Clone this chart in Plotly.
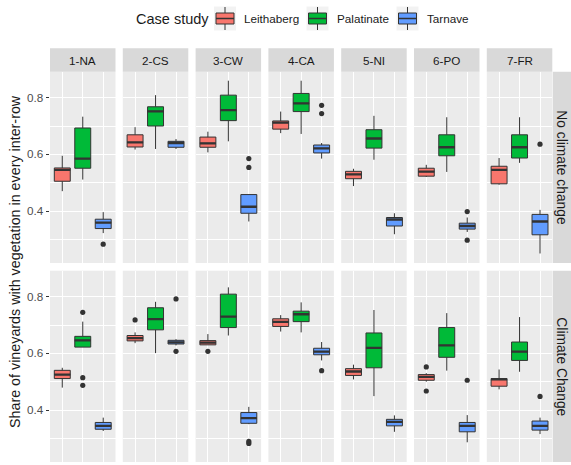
import plotly.graph_objects as go

# ---------------------------------------------------------------------------
# Data: share of vineyards with vegetation in every inter-row
# Each tuple: (lower whisker, Q1, median, Q3, upper whisker), one per region
# ---------------------------------------------------------------------------
regions = ["1-NA", "2-CS", "3-CW", "4-CA", "5-NI", "6-PO", "7-FR"]
scenarios = ["No climate change", "Climate Change"]
cases = ["Leithaberg", "Palatinate", "Tarnave"]
y_ticks = [0.4, 0.6, 0.8]

leithaberg_no_cc = [
    (0.470, 0.505, 0.545, 0.552, 0.595),
    (0.617, 0.626, 0.642, 0.669, 0.696),
    (0.607, 0.625, 0.639, 0.661, 0.680),
    (0.675, 0.689, 0.712, 0.718, 0.751),
    (0.488, 0.514, 0.529, 0.540, 0.549),
    (0.520, 0.523, 0.539, 0.551, 0.563),
    (0.493, 0.496, 0.545, 0.558, 0.587),
]
palatinate_no_cc = [
    (0.511, 0.551, 0.585, 0.693, 0.733),
    (0.619, 0.700, 0.752, 0.768, 0.809),
    (0.646, 0.719, 0.756, 0.809, 0.860),
    (0.672, 0.751, 0.780, 0.815, 0.860),
    (0.581, 0.622, 0.656, 0.687, 0.736),
    (0.538, 0.595, 0.625, 0.669, 0.731),
    (0.570, 0.587, 0.625, 0.669, 0.731),
]
tarnave_no_cc = [
    (0.322, 0.338, 0.359, 0.371, 0.396),
    (0.619, 0.625, 0.640, 0.646, 0.654),
    (0.363, 0.392, 0.415, 0.458, 0.458),
    (0.585, 0.605, 0.621, 0.633, 0.640),
    (0.318, 0.347, 0.370, 0.377, 0.392),
    (0.326, 0.336, 0.347, 0.357, 0.377),
    (0.250, 0.316, 0.363, 0.388, 0.404),
]
leithaberg_cc = [
    (0.479, 0.511, 0.525, 0.540, 0.549),
    (0.636, 0.644, 0.654, 0.663, 0.674),
    (0.630, 0.630, 0.638, 0.645, 0.668),
    (0.677, 0.695, 0.711, 0.722, 0.735),
    (0.508, 0.522, 0.536, 0.546, 0.560),
    (0.500, 0.505, 0.517, 0.525, 0.530),
    (0.473, 0.484, 0.508, 0.511, 0.543),
]
palatinate_cc = [
    (0.622, 0.622, 0.646, 0.660, 0.712),
    (0.601, 0.683, 0.721, 0.761, 0.782),
    (0.663, 0.691, 0.730, 0.809, 0.833),
    (0.674, 0.712, 0.738, 0.749, 0.780),
    (0.449, 0.549, 0.619, 0.672, 0.753),
    (0.539, 0.586, 0.628, 0.691, 0.742),
    (0.535, 0.575, 0.606, 0.640, 0.728),
]
tarnave_cc = [
    (0.326, 0.332, 0.344, 0.356, 0.373),
    (0.628, 0.633, 0.639, 0.646, 0.650),
    (0.350, 0.353, 0.371, 0.391, 0.411),
    (0.575, 0.595, 0.606, 0.618, 0.640),
    (0.323, 0.344, 0.358, 0.367, 0.381),
    (0.286, 0.323, 0.344, 0.356, 0.382),
    (0.315, 0.329, 0.344, 0.361, 0.373),
]

# Outliers per region
leithaberg_no_cc_out = [[], [], [], [], [], [], []]
palatinate_no_cc_out = [[], [], [], [], [], [], []]
tarnave_no_cc_out = [[0.283], [], [0.585, 0.554], [0.773, 0.744], [], [0.398, 0.297], [0.636]]
leithaberg_cc_out = [[], [0.718], [0.607], [], [], [0.552, 0.467], []]
palatinate_cc_out = [[0.745, 0.514, 0.487], [], [], [], [], [], []]
tarnave_cc_out = [[], [0.792, 0.607], [0.289, 0.282], [0.539], [], [0.505], [0.448]]

stats = {
    (0, 0): (leithaberg_no_cc, leithaberg_no_cc_out),
    (0, 1): (palatinate_no_cc, palatinate_no_cc_out),
    (0, 2): (tarnave_no_cc, tarnave_no_cc_out),
    (1, 0): (leithaberg_cc, leithaberg_cc_out),
    (1, 1): (palatinate_cc, palatinate_cc_out),
    (1, 2): (tarnave_cc, tarnave_cc_out),
}

# ---------------------------------------------------------------------------
# Styling / geometry
# ---------------------------------------------------------------------------
W, H = 571, 465
FONT = "Liberation Sans, Arial, sans-serif"
fills = ["#F8766D", "#00BA38", "#619CFF"]
OUTLINE = "#333333"
BOX_W = 0.78
Y_RANGE = [0.2164, 0.8918]


def fx(px):
    return px / W


def fy(py):
    return 1 - py / H


col_left = [50 + 72.8 * i for i in range(7)]
col_w = 65.5
row_top = [71.7, 270.7]
row_bot = [263.0, 462.0]
strip_top = 48.3

fig = go.Figure()
layout = dict(
    width=W, height=H,
    margin=dict(l=0, r=0, t=0, b=0),
    paper_bgcolor="white",
    plot_bgcolor="#EBEBEB",
    showlegend=False,
    font=dict(family=FONT, color="#1A1A1A"),
)
shapes = []
annotations = []

for r in range(2):
    for c in range(7):
        k = r * 7 + c + 1
        xa = "xaxis" if k == 1 else f"xaxis{k}"
        ya = "yaxis" if k == 1 else f"yaxis{k}"
        xr = "x" if k == 1 else f"x{k}"
        yr = "y" if k == 1 else f"y{k}"
        layout[xa] = dict(
            domain=[fx(col_left[c]), fx(col_left[c] + col_w)],
            anchor=yr, range=[0.4, 3.6],
            tickvals=[1, 2, 3], showticklabels=False, ticks="",
            showgrid=True, gridcolor="white", gridwidth=1.3,
            zeroline=False, showline=False, fixedrange=True,
        )
        layout[ya] = dict(
            domain=[fy(row_bot[r]), fy(row_top[r])],
            anchor=xr, range=Y_RANGE,
            tickvals=y_ticks, ticktext=[f"{v:.1f}" for v in y_ticks],
            showticklabels=(c == 0),
            ticks="outside" if c == 0 else "", ticklen=3.5,
            tickcolor=OUTLINE, tickwidth=1,
            tickfont=dict(size=11.7, color="#4D4D4D", family=FONT),
            showgrid=True, gridcolor="white", gridwidth=1.3,
            minor=dict(dtick=0.1, tick0=0.3, showgrid=True,
                       gridcolor="white", gridwidth=0.6, ticks=""),
            zeroline=False, showline=False, fixedrange=True,
        )

        for j in range(3):
            vals, outs = stats[(r, j)]
            lo, q1, med, q3, hi = vals[c]
            pos = j + 1
            fig.add_trace(go.Box(
                x=[pos], q1=[q1], median=[med], q3=[q3],
                lowerfence=[lo], upperfence=[hi],
                width=BOX_W, whiskerwidth=0, boxpoints=False,
                fillcolor=fills[j], line=dict(color=OUTLINE, width=1),
                xaxis=xr, yaxis=yr, name=cases[j], hoverinfo="skip",
            ))
            # thicker median bar
            fig.add_trace(go.Scatter(
                x=[pos - BOX_W / 2, pos + BOX_W / 2], y=[med, med],
                mode="lines", line=dict(color=OUTLINE, width=2.3),
                xaxis=xr, yaxis=yr, hoverinfo="skip",
            ))
            if outs[c]:
                fig.add_trace(go.Scatter(
                    x=[pos] * len(outs[c]), y=outs[c], mode="markers",
                    marker=dict(color=OUTLINE, size=5.2),
                    xaxis=xr, yaxis=yr, hoverinfo="skip",
                ))

# Top strips (region labels)
for c, name in enumerate(regions):
    x0, x1 = col_left[c], col_left[c] + col_w
    shapes.append(dict(type="rect", xref="paper", yref="paper",
                       x0=fx(x0), x1=fx(x1), y0=fy(row_top[0]), y1=fy(strip_top),
                       fillcolor="#D9D9D9", line=dict(width=0)))
    annotations.append(dict(x=fx((x0 + x1) / 2), y=fy((strip_top + row_top[0]) / 2),
                            xref="paper", yref="paper", text=name, showarrow=False,
                            font=dict(size=11.7, color="#1A1A1A", family=FONT),
                            xanchor="center", yanchor="middle"))

# Right strips (scenario labels)
right_x0 = col_left[6] + col_w + 0.5
for r, name in enumerate(scenarios):
    shapes.append(dict(type="rect", xref="paper", yref="paper",
                       x0=fx(right_x0), x1=fx(right_x0 + 24), y0=fy(row_bot[r]), y1=fy(row_top[r]),
                       fillcolor="#D9D9D9", line=dict(width=0)))
    annotations.append(dict(x=fx(562), y=fy((row_top[r] + row_bot[r]) / 2),
                            xref="paper", yref="paper", text=name, showarrow=False,
                            textangle=90,
                            font=dict(size=13.8, color="#1A1A1A", family=FONT),
                            xanchor="center", yanchor="middle"))

# Y axis title
annotations.append(dict(x=fx(15), y=fy(262), xref="paper", yref="paper",
                        text="Share of vineyards with vegetation in every inter-row",
                        showarrow=False, textangle=-90,
                        font=dict(size=14.3, color="#1A1A1A", family=FONT),
                        xanchor="center", yanchor="middle"))

# Legend
leg_cy = 18.5
annotations.append(dict(x=fx(134), y=fy(leg_cy), xref="paper", yref="paper",
                        text="Case study", showarrow=False,
                        font=dict(size=14.5, color="#1A1A1A", family=FONT),
                        xanchor="left", yanchor="middle"))
key_left = [214, 306.5, 396.5]
for j, name in enumerate(cases):
    kx = key_left[j]
    kc = kx + 11
    shapes.append(dict(type="rect", xref="paper", yref="paper",
                       x0=fx(kx), x1=fx(kx + 22), y0=fy(leg_cy + 12), y1=fy(leg_cy - 12),
                       fillcolor="#F2F2F2", line=dict(width=0)))
    shapes.append(dict(type="line", xref="paper", yref="paper",
                       x0=fx(kc), x1=fx(kc), y0=fy(leg_cy + 11.5), y1=fy(leg_cy - 11.5),
                       line=dict(color=OUTLINE, width=1)))
    shapes.append(dict(type="rect", xref="paper", yref="paper",
                       x0=fx(kx + 2), x1=fx(kx + 20), y0=fy(leg_cy + 5.5), y1=fy(leg_cy - 5.5),
                       fillcolor=fills[j], line=dict(color=OUTLINE, width=1)))
    shapes.append(dict(type="line", xref="paper", yref="paper",
                       x0=fx(kx + 2), x1=fx(kx + 20), y0=fy(leg_cy), y1=fy(leg_cy),
                       line=dict(color=OUTLINE, width=1.5)))
    annotations.append(dict(x=fx(kx + 28), y=fy(leg_cy), xref="paper", yref="paper",
                            text=name, showarrow=False,
                            font=dict(size=11.7, color="#1A1A1A", family=FONT),
                            xanchor="left", yanchor="middle"))

layout["shapes"] = shapes
layout["annotations"] = annotations
fig.update_layout(**layout)

fig.write_html("out.html")
